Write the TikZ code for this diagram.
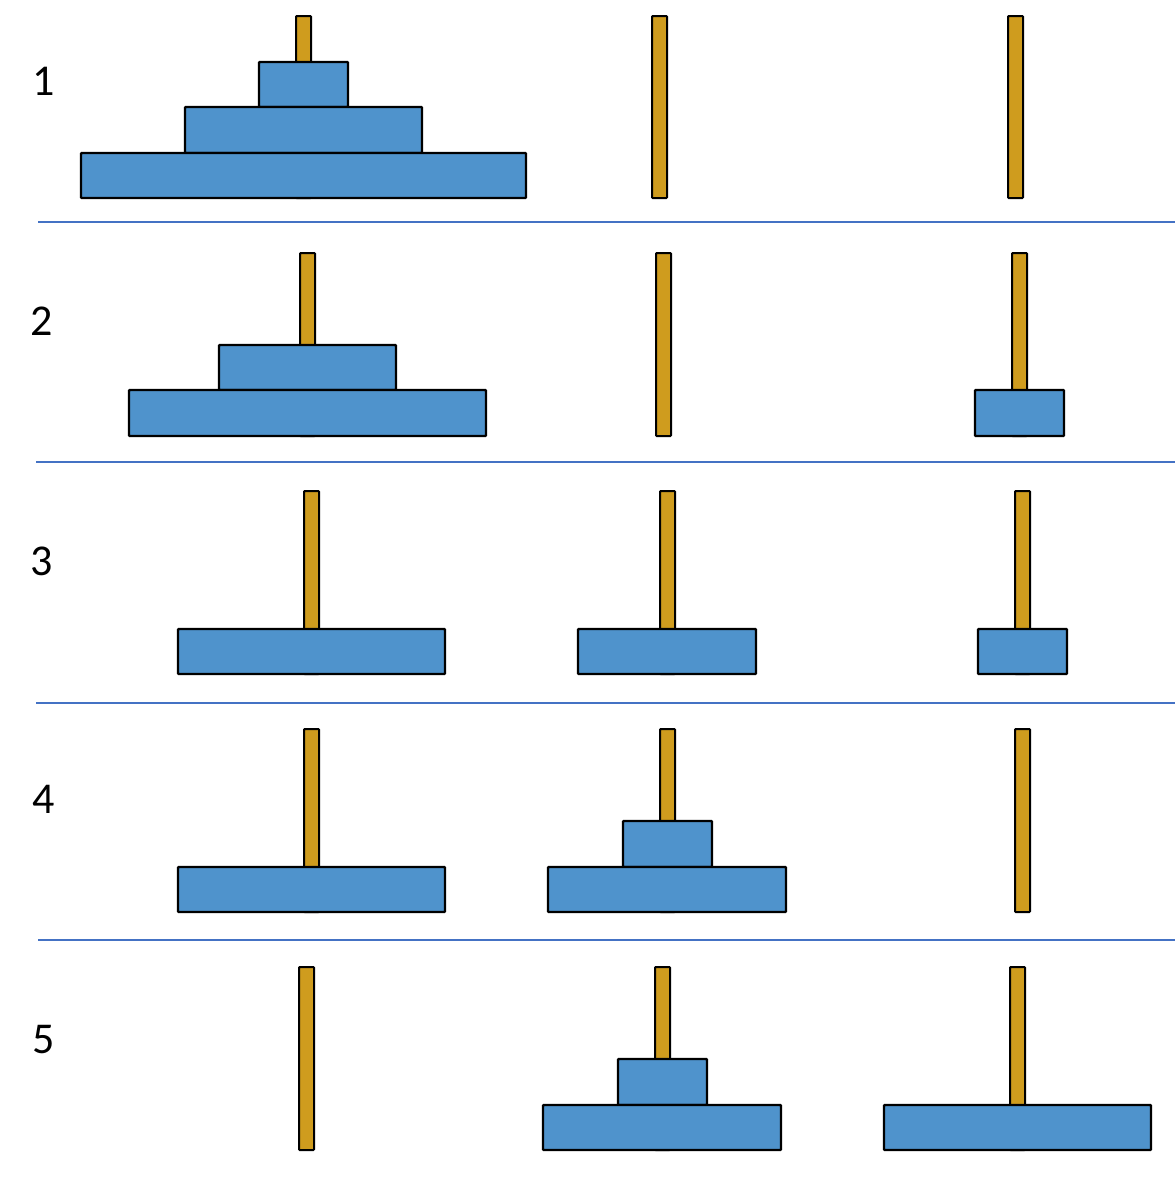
\documentclass[tikz,border=0pt]{standalone}
\usepackage{fontspec}
\setmainfont{Carlito}
\definecolor{diskblue}{RGB}{79,147,204}
\definecolor{peggold}{RGB}{207,156,30}
\definecolor{seplinec}{RGB}{68,114,196}
\tikzset{
  pegbox/.style={fill=peggold,draw=black,line width=2pt,rounded corners=0.8pt},
  diskbox/.style={fill=diskblue,draw=black,line width=2.4pt,rounded corners=0.8pt},
  sepline/.style={draw=seplinec,line width=1.1pt},
  rowlabel/.style={font=\fontsize{44}{48}\selectfont,text=black}
}
\newcommand{\hpeg}[3]{\draw[pegbox] (#1,#2) rectangle (#1+15,#3);}
\newcommand{\hdisk}[4]{\draw[diskbox] (#1,#3) rectangle (#2,#4);}
\begin{document}
\begin{tikzpicture}[x=1pt,y=-1pt]
\useasboundingbox (0,0) rectangle (1175,1179);
% row 1
\node[rowlabel] (l1) at (44,81) {1};
\hpeg{296}{16}{198}
\hpeg{652}{16}{198}
\hpeg{1008}{16}{198}
\hdisk{259}{348}{62}{107}
\hdisk{185}{422}{107}{153}
\hdisk{81}{526}{153}{198}
\coordinate (s1a) at (38,222); \coordinate (s1b) at (1175,222);
\draw[sepline] (s1a) -- (s1b);
% row 2
\node[rowlabel] (l2) at (42,321) {2};
\hpeg{300}{253}{436}
\hpeg{656}{253}{436}
\hpeg{1012}{253}{436}
\hdisk{219}{396}{345}{390}
\hdisk{129}{486}{390}{436}
\hdisk{975}{1064}{390}{436}
\coordinate (s2a) at (36,462); \coordinate (s2b) at (1175,462);
\draw[sepline] (s2a) -- (s2b);
% row 3
\node[rowlabel] (l3) at (42,561) {3};
\hpeg{304}{491}{674}
\hpeg{660}{491}{674}
\hpeg{1015}{491}{674}
\hdisk{178}{445}{629}{674}
\hdisk{578}{756}{629}{674}
\hdisk{978}{1067}{629}{674}
\coordinate (s3a) at (36,703); \coordinate (s3b) at (1175,703);
\draw[sepline] (s3a) -- (s3b);
% row 4
\node[rowlabel] (l4) at (44,799) {4};
\hpeg{304}{729}{912}
\hpeg{660}{729}{912}
\hpeg{1015}{729}{912}
\hdisk{178}{445}{867}{912}
\hdisk{623}{712}{821}{867}
\hdisk{548}{786}{867}{912}
\coordinate (s4a) at (38,940); \coordinate (s4b) at (1175,940);
\draw[sepline] (s4a) -- (s4b);
% row 5
\node[rowlabel] (l5) at (44,1040) {5};
\hpeg{299}{967}{1150}
\hpeg{655}{967}{1150}
\hpeg{1010}{967}{1150}
\hdisk{618}{707}{1059}{1105}
\hdisk{543}{781}{1105}{1150}
\hdisk{884}{1151}{1105}{1150}
\end{tikzpicture}
\end{document}
